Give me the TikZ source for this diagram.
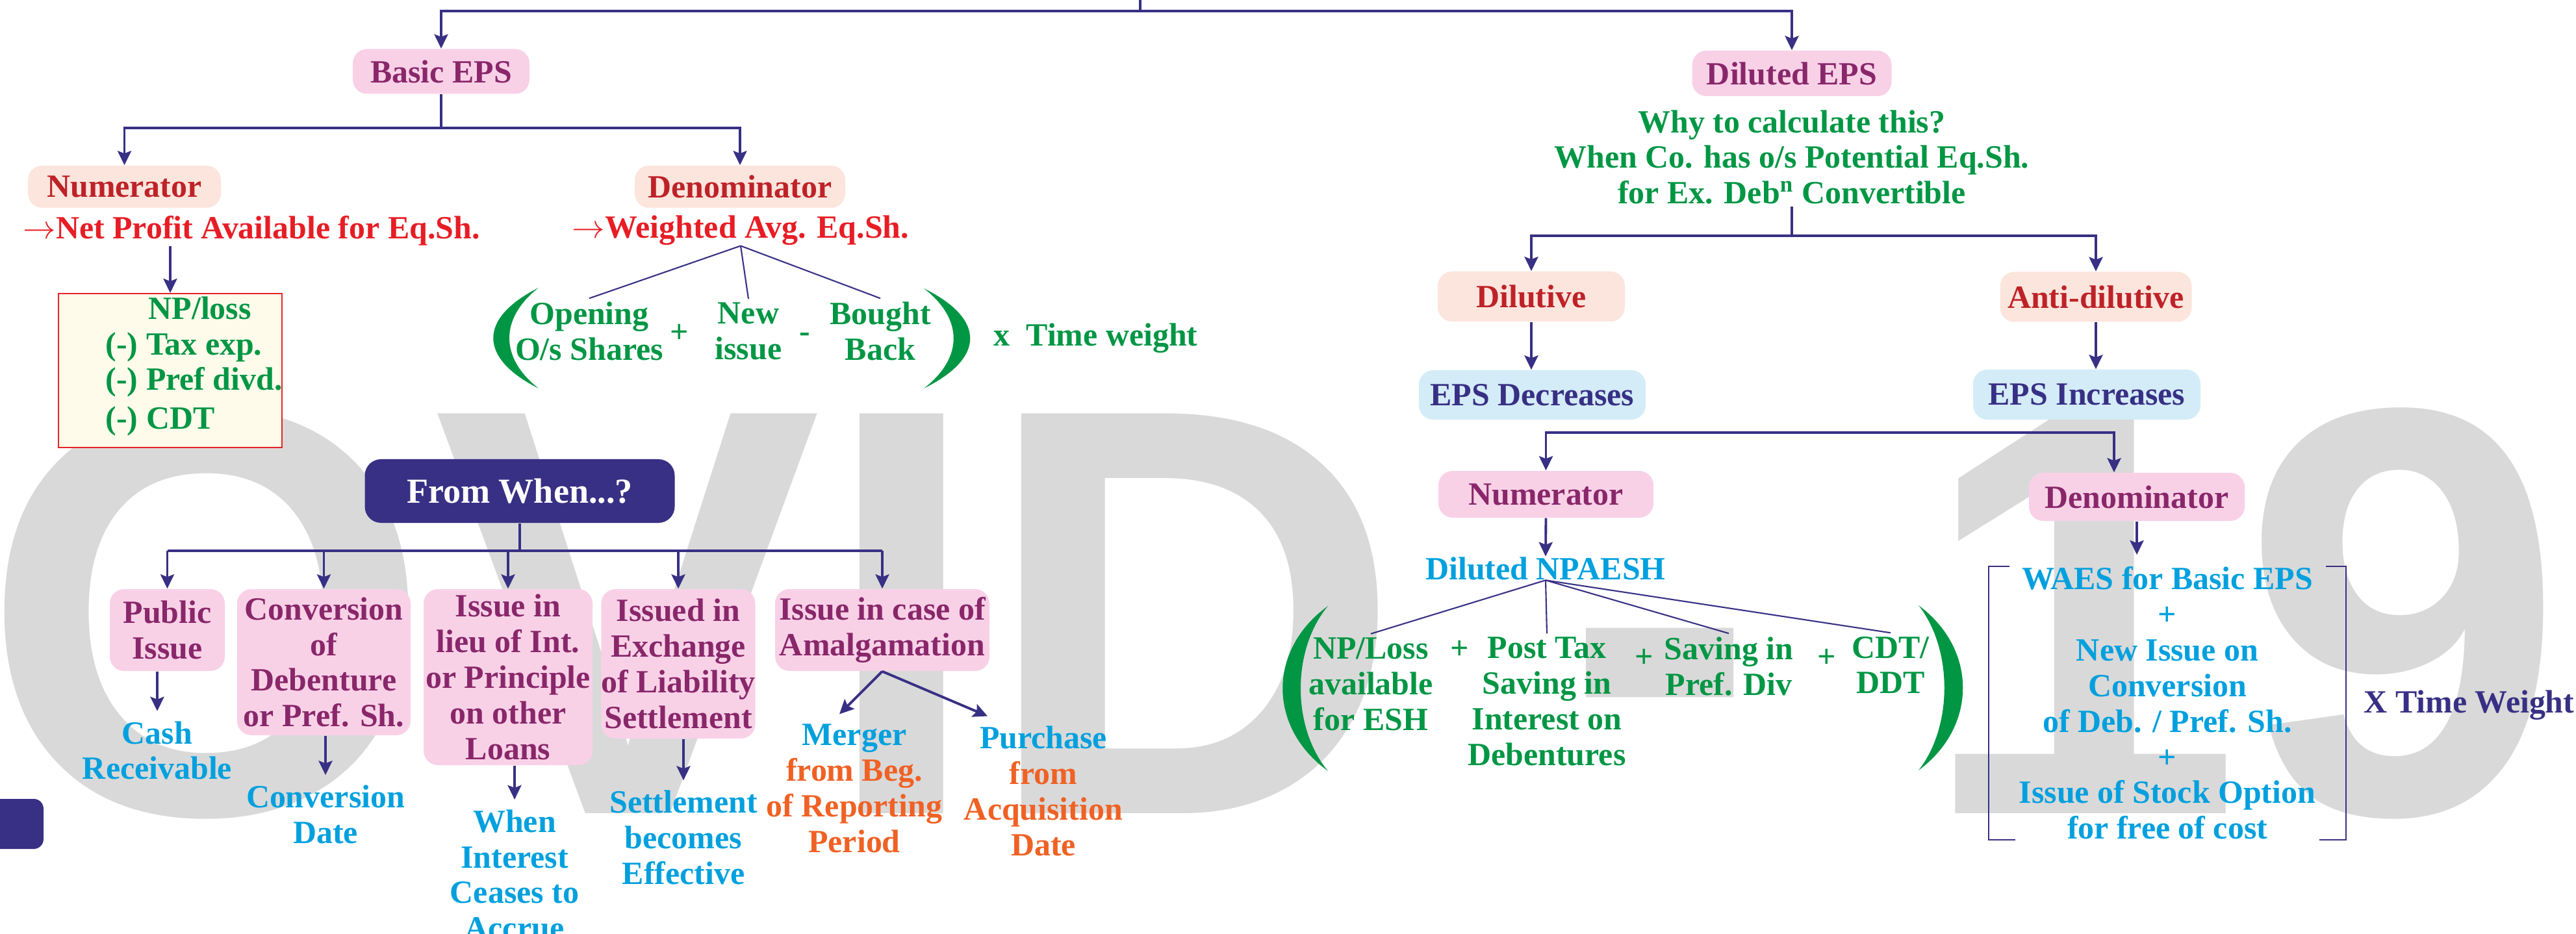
\documentclass[tikz,border=0pt]{standalone}
\usepackage{fontspec}
\setmainfont{Liberation Serif}
\newfontfamily\wmfont{Liberation Sans}
\usetikzlibrary{arrows.meta,positioning}

\definecolor{navy}{RGB}{56,48,132}
\definecolor{pinkfill}{RGB}{249,209,231}
\definecolor{plum}{RGB}{137,39,106}
\definecolor{salmon}{RGB}{252,229,221}
\definecolor{darkred}{RGB}{190,34,40}
\definecolor{brightred}{RGB}{231,29,37}
\definecolor{grn}{RGB}{0,150,68}
\definecolor{skytext}{RGB}{0,160,222}
\definecolor{orng}{RGB}{240,97,36}
\definecolor{skyfill}{RGB}{211,236,248}
\definecolor{cream}{RGB}{255,251,235}
\definecolor{boxred}{RGB}{230,35,40}
\definecolor{wmgray}{RGB}{217,217,217}

\tikzset{
  >={Stealth[length=0.22cm,width=0.21cm,inset=0.04cm]},
  every node/.style={font=\bfseries\fontsize{14.2}{15.6}\selectfont, align=center},
  conn/.style={draw=navy, line width=1.1pt},
  fine/.style={draw=navy, line width=0.6pt},
  brk/.style={draw=navy, line width=0.5pt},
  pinkbox/.style={fill=pinkfill, text=plum, rounded corners=0.22cm, inner sep=0pt},
  salbox/.style={fill=salmon, text=darkred, rounded corners=0.22cm, inner sep=0pt},
  bluebox/.style={fill=skyfill, text=navy, rounded corners=0.22cm, inner sep=0pt},
  navybox/.style={fill=navy, text=white, rounded corners=0.25cm, inner sep=0pt,
    font=\bfseries\fontsize{15.4}{17}\selectfont},
  npbox/.style={draw=boxred, fill=cream, line width=0.55pt, minimum width=3.44cm, minimum height=2.37cm},
  txt/.style={inner sep=0.03cm},
  lbl/.style={inner sep=0.15cm, text=skytext},
  term/.style={inner sep=0.05cm, text=grn},
  wmark/.style={inner sep=0pt, text=wmgray, font=\wmfont\bfseries\fontsize{254.6}{254.6}\selectfont},
}

\begin{document}
\begin{tikzpicture}
  \useasboundingbox (0,0) rectangle (39.65,-14.38);
  \clip (0,0) rectangle (39.65,-14.38);

  % watermark
  \node[wmark, anchor=base east] (covid) at (39.50,-12.52) {COVID - 19};
  \fill[navy, rounded corners=0.15cm] (-0.50,-12.30) rectangle (0.67,-13.07);

  % top split
  \coordinate (topin) at (17.55,0.05);
  \coordinate (top) at (17.55,-0.17);
  \node[pinkbox, minimum width=2.72cm, minimum height=0.69cm] (basic) at (6.79,-1.10) {Basic EPS};
  \node[pinkbox, minimum width=3.07cm, minimum height=0.70cm] (dil) at (27.58,-1.13) {Diluted EPS};
  \draw[conn] (topin) -- (top);
  \draw[conn,->] (top) -| (basic.north); \draw[conn,->] (top) -| (dil.north);

  % basic EPS
  \node[salbox, minimum width=2.97cm, minimum height=0.65cm] (num) at (1.915,-2.875) {Numerator};
  \node[salbox, minimum width=3.24cm, minimum height=0.65cm] (den) at (11.39,-2.875) {Denominator};
  \draw[conn] (basic.south) -- ++(0,-0.515) coordinate (bsplit);
  \draw[conn,->] (bsplit) -| (num.north); \draw[conn,->] (bsplit) -| (den.north);

  \node[inner sep=0pt, text=brightred] (nppa) at (3.87,-3.55) {$\rightarrow$Net Profit Available for Eq.Sh.};
  \node[inner sep=0pt, text=brightred] (wavg) at (11.40,-3.55) {$\rightarrow$Weighted Avg. Eq.Sh.};

  \node[npbox] (npbox) at (2.62,-5.705) {};
  \node[inner sep=0pt, anchor=west, text=grn, align=left] (nplist) at (1.62,-5.64)
    {\hspace{0.66cm}NP/loss\\(-) Tax exp.\\(-) Pref divd.\\[0.05cm](-) CDT};
  \draw[conn,->] (nppa.south -| npbox.north) -- (npbox.north);

  \node[term] (open) at (9.07,-5.10) {Opening\\O/s Shares};
  \node[term] (plus1) at (10.46,-5.13) {+};
  \node[term] (newis) at (11.52,-5.10) {New\\issue};
  \node[term] (minus1) at (12.39,-5.20) {-};
  \node[term] (bought) at (13.55,-5.10) {Bought\\Back};
  \node[term, anchor=base west] (tw) at (15.24,-5.33) {x~~Time weight};
  \fill[grn] (8.29,-4.43) .. controls (7.36,-4.90) and (7.36,-5.51) .. (8.29,-5.98)
    .. controls (7.69,-5.51) and (7.69,-4.90) .. cycle;
  \fill[grn] (14.22,-4.44) .. controls (15.17,-4.91) and (15.17,-5.51) .. (14.22,-5.98)
    .. controls (14.83,-5.51) and (14.83,-4.91) .. cycle;
  \draw[fine] (wavg.south) to (open.north);
  \draw[fine] (wavg.south) to (newis.north);
  \draw[fine] (wavg.south) to (bought.north);

  % from when
  \node[navybox, minimum width=4.77cm, minimum height=0.98cm] (fw) at (8.00,-7.56) {From When...?};
  \node[pinkbox, minimum width=1.77cm, minimum height=1.26cm] (pub) at (2.575,-9.70) {Public\\Issue};
  \node[pinkbox, minimum width=2.67cm, minimum height=2.25cm] (conv) at (4.985,-10.195) {Conversion\\of\\Debenture\\or Pref. Sh.};
  \node[pinkbox, minimum width=2.60cm, minimum height=2.71cm] (lieu) at (7.82,-10.425) {Issue in\\lieu of Int.\\or Principle\\on other\\Loans};
  \node[pinkbox, minimum width=2.34cm, minimum height=2.30cm] (exch) at (10.44,-10.22) {Issued in\\Exchange\\of Liability\\Settlement};
  \node[pinkbox, minimum width=3.30cm, minimum height=1.26cm] (amal) at (13.58,-9.70) {Issue in case of\\Amalgamation};
  \draw[conn] (fw.south) -- ++(0,-0.42) coordinate (fsplit);
  \draw[conn] (fsplit -| pub.north) -- (fsplit -| amal.north);
  \foreach \b in {pub,conv,lieu,exch,amal}
    \draw[conn,->] (fsplit -| \b.north) -- (\b.north);

  \node[lbl] (cash) at (2.42,-11.555) {Cash\\Receivable};
  \node[lbl] (cdate) at (5.01,-12.54) {Conversion\\Date};
  \node[lbl] (when) at (7.92,-13.465) {When\\Interest\\Ceases to\\Accrue};
  \node[lbl] (settle) at (10.52,-12.895) {Settlement\\becomes\\Effective};
  \node[lbl, text=orng] (merger) at (13.15,-12.14) {\textcolor{skytext}{Merger}\\from Beg.\\of Reporting\\Period};
  \node[lbl, text=orng] (purch) at (16.06,-12.18) {\textcolor{skytext}{Purchase}\\from\\Acquisition\\Date};
  \draw[conn,->] (cash.north |- pub.south) -- (cash.north);
  \draw[conn,->] (cdate.north |- conv.south) -- (cdate.north);
  \draw[conn,->] (when.north |- lieu.south) -- (when.north);
  \draw[conn,->] (settle.north |- exch.south) -- (settle.north);
  \draw[conn,->] (amal.south) -- ([xshift=-0.23cm]merger.north);
  \draw[conn,->] (amal.south) -- ([xshift=-0.86cm]purch.north);

  % diluted EPS
  \node[txt, text=grn] (why) at (27.58,-2.42) {Why to calculate this?\\When Co. has o/s Potential Eq.Sh.\\for Ex. Deb\textsuperscript{n} Convertible};
  \node[salbox, minimum width=2.88cm, minimum height=0.77cm] (dilu) at (23.57,-4.565) {Dilutive};
  \node[salbox, minimum width=2.95cm, minimum height=0.77cm] (anti) at (32.26,-4.57) {Anti-dilutive};
  \draw[conn] (why.south) -- ++(0,-0.45) coordinate (wsplit);
  \draw[conn,->] (wsplit) -| (dilu.north); \draw[conn,->] (wsplit) -| (anti.north);

  \node[bluebox, minimum width=3.49cm, minimum height=0.76cm] (decr) at (23.585,-6.08) {EPS Decreases};
  \node[bluebox, minimum width=3.50cm, minimum height=0.77cm] (incr) at (32.12,-6.075) {EPS Increases};
  \draw[conn,->] (dilu.south) -- (dilu.south |- decr.north);
  \draw[conn,->] (anti.south) -- (anti.south |- incr.north);

  \node[pinkbox, minimum width=3.31cm, minimum height=0.72cm] (dnum) at (23.795,-7.61) {Numerator};
  \node[pinkbox, minimum width=3.32cm, minimum height=0.74cm] (dden) at (32.89,-7.65) {Denominator};
  \draw[conn,<->] (dnum.north) -- ++(0,0.58) -| ([xshift=-0.35cm]dden.north);

  \node[inner sep=0pt, text=skytext] (npaesh) at (23.79,-8.75) {Diluted NPAESH};
  \draw[conn,->] (dnum.south) -- (npaesh.north);

  \node[term] (rnp) at (21.10,-10.53) {NP/Loss\\available\\for ESH};
  \node[term] (plus2) at (22.47,-10.00) {+};
  \node[term] (ptax) at (23.81,-10.80) {Post Tax\\Saving in\\Interest on\\Debentures};
  \node[term] (plus3) at (25.31,-10.13) {+};
  \node[term] (spd) at (26.61,-10.26) {Saving in\\Pref. Div};
  \node[term] (plus4) at (28.12,-10.13) {+};
  \node[term] (cddt) at (29.10,-10.24) {CDT/\\DDT};
  \fill[grn] (20.44,-9.33) .. controls (19.51,-10.00) and (19.51,-11.20) .. (20.44,-11.87)
    .. controls (19.88,-11.20) and (19.88,-10.00) .. cycle;
  \fill[grn] (29.53,-9.32) .. controls (30.44,-9.99) and (30.44,-11.19) .. (29.53,-11.86)
    .. controls (30.06,-11.19) and (30.06,-9.99) .. cycle;
  \foreach \t in {rnp,ptax,spd,cddt}
    \draw[fine] (npaesh.south) to (\t.north);

  \node[inner sep=0pt, text=skytext, minimum width=5.48cm, minimum height=4.17cm] (waes) at (33.36,-10.825)
    {WAES for Basic EPS\\+\\New Issue on\\Conversion\\of Deb. / Pref. Sh.\\+\\Issue of Stock Option\\for free of cost};
  \draw[brk] ([xshift=0.32cm]waes.north west) -- (waes.north west) -- (waes.south west) -- ++(0.41,0);
  \draw[brk] ([xshift=-0.31cm]waes.north east) -- (waes.north east) -- (waes.south east) -- ++(-0.41,0);
  \draw[conn,->,shorten >=0.18cm] (dden.south) -- (dden.south |- waes.north);
  \node[inner sep=0pt, text=navy, anchor=base east] (xtw) at (39.63,-10.97) {X Time Weight};
\end{tikzpicture}
\end{document}
